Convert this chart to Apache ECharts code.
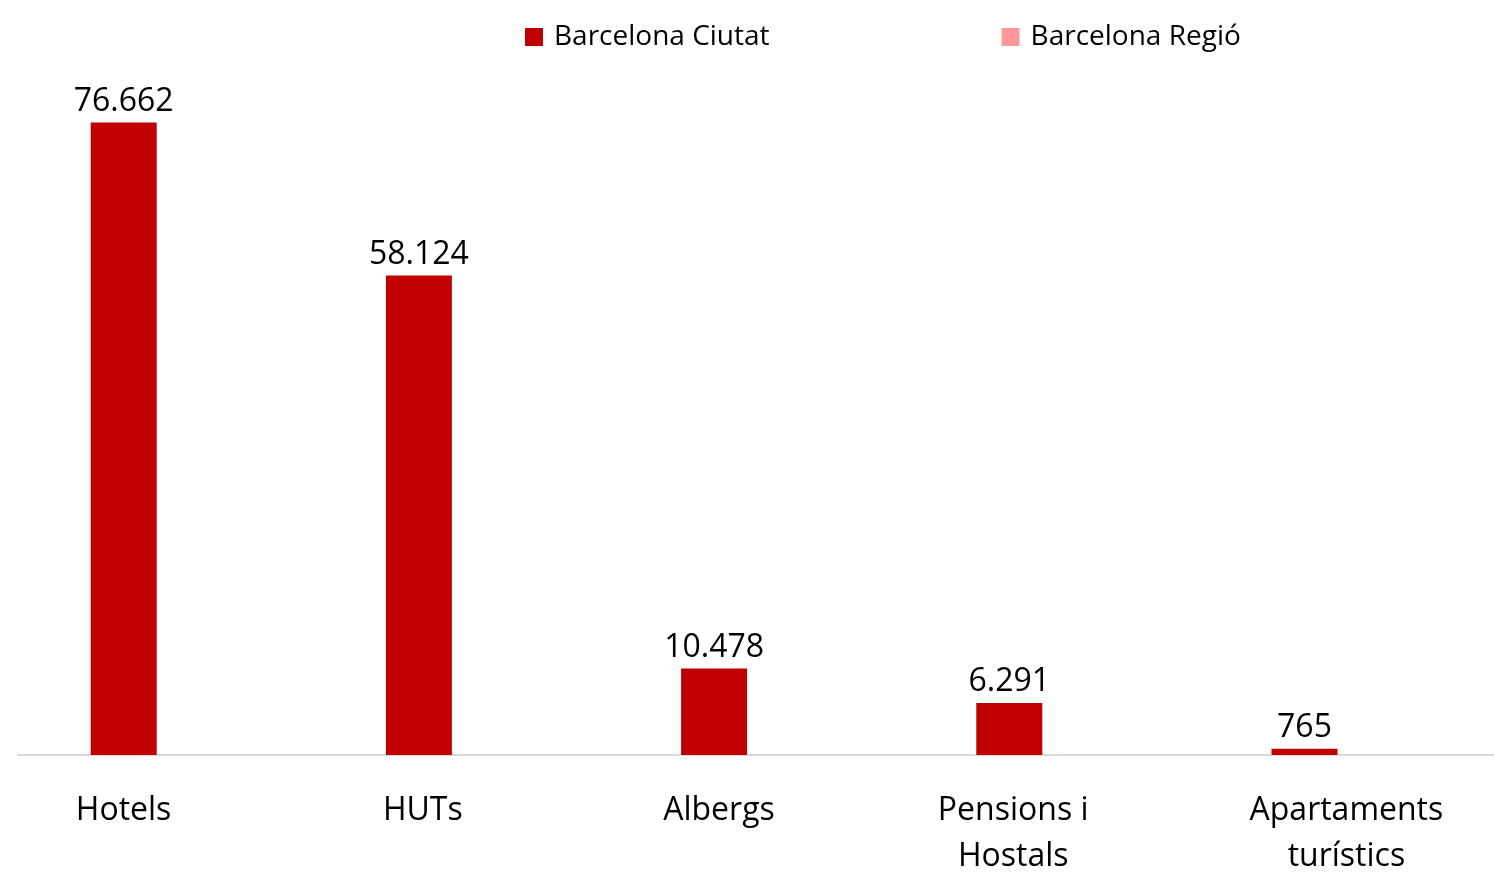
<!DOCTYPE html>
<html>
<head>
<meta charset="utf-8">
<style>
  html, body { margin: 0; padding: 0; background: #fff; overflow: hidden; }
  #chart { width: 1494px; height: 880px; }
</style>
<script src="https://cdn.jsdelivr.net/npm/echarts@6/dist/echarts.min.js"></script>
</head>
<body>
<div id="chart"></div>
<script>
const categories = ['Hotels', 'HUTs', 'Albergs', 'Pensions i\nHostals', 'Apartaments\nturístics']
const ciutat = [76662, 58124, 10478, 6291, 765]
const regio = [null, null, null, null, null]
// shift of each category label (px), the original sits them over the bar
const labelShift = [-42, -38, -37, -38, 0]

const font = '"Open Sans", sans-serif'

function fmt(v) {
  return String(v).replace(/\B(?=(\d{3})+(?!\d))/g, '.')
}

const chart = echarts.init(document.getElementById('chart'))

chart.setOption({
  animation: false,
  textStyle: { fontFamily: font },
  legend: {
    left: 520,
    top: 18,
    icon: 'rect',
    itemWidth: 18,
    itemHeight: 18,
    itemGap: 232,
    textStyle: { fontSize: 28, color: '#000', fontFamily: font, padding: [0, 0, 0, 6] },
    data: ['Barcelona Ciutat', 'Barcelona Regió']
  },
  grid: {
    top: 95,
    left: 18,
    right: 0,
    bottom: 116
  },
  xAxis: {
    type: 'category',
    data: categories.map((c, i) => ({
      value: c,
      textStyle: {
        padding: labelShift[i] < 0 ? [0, -2 * labelShift[i], 0, 0] : [0, 0, 0, 2 * labelShift[i]]
      }
    })),
    axisLine: { lineStyle: { color: '#d9d9d9', width: 2 } },
    axisTick: { show: false },
    axisLabel: {
      interval: 0,
      margin: 33,
      fontSize: 32,
      lineHeight: 46,
      color: '#000',
      fontFamily: font
    }
  },
  yAxis: {
    type: 'value',
    min: 0,
    max: 80000,
    show: false,
    splitLine: { show: false }
  },
  series: [
    {
      name: 'Barcelona Ciutat',
      type: 'bar',
      barWidth: 66,
      barGap: '27%',
      itemStyle: { color: '#C00000' },
      label: {
        show: true,
        position: 'top',
        distance: 5,
        fontSize: 32,
        color: '#000',
        fontFamily: font,
        formatter: p => fmt(p.value)
      },
      data: ciutat
    },
    {
      name: 'Barcelona Regió',
      type: 'bar',
      barWidth: 66,
      itemStyle: { color: '#FF9999' },
      data: regio
    }
  ]
})
</script>
</body>
</html>
